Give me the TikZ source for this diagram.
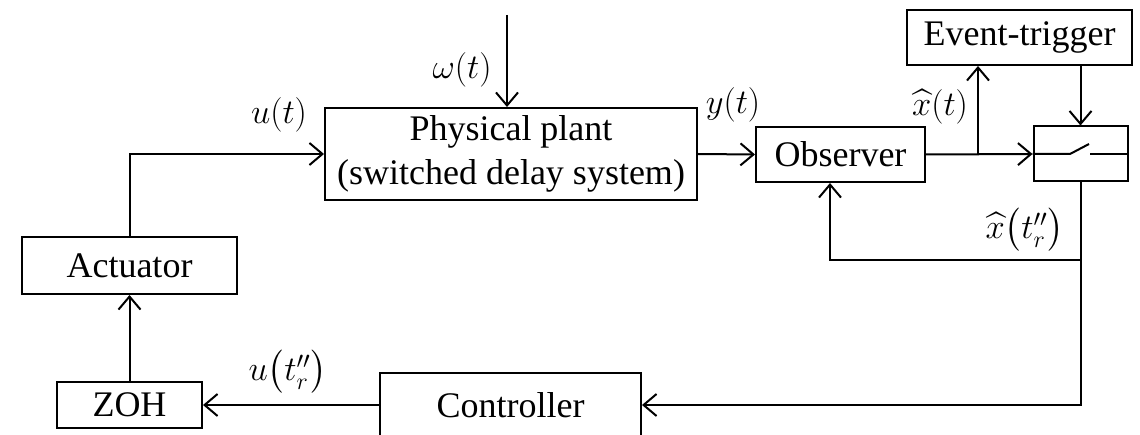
\documentclass[tikz,border=0pt]{standalone}
\usepackage{amsmath}
\usepackage{amssymb}
\usepackage{fontspec}
\setmainfont{Liberation Serif}
\usetikzlibrary{arrows.meta}

\begin{document}
\begin{tikzpicture}[x=0.5pt, y=0.5pt, line width=1pt,
		font=\fontsize{18}{22}\selectfont,
		block/.style={draw, inner sep=0pt, align=center},
		lbl/.style={inner sep=0pt},
		sig/.style={-{Straight Barb[length=6.5pt,width=11pt]}}]
		\useasboundingbox (0,0) rectangle (1140,434);
		% blocks
		\node[block, minimum width=186pt, minimum height=46pt] (plant) at (511,280) {Physical plant\\(switched delay system)};
		\node[block, minimum width=84.5pt, minimum height=27.5pt] (obs) at (840.5,279.5) {Observer};
		\node[block, minimum width=112.5pt, minimum height=27.5pt] (trig) at (1019.5,396.5) {Event-trigger};
		\node[block, minimum width=47pt, minimum height=27.5pt] (sw) at (1080.5,280) {};
		\node[block, minimum width=107.5pt, minimum height=28.5pt] (act) at (129.5,168.5) {Actuator};
		\node[block, minimum width=72.5pt, minimum height=23pt] (zoh) at (129.5,29) {ZOH};
		\node[block, minimum width=130.5pt, minimum height=32pt] (ctrl) at (510.5,29) {Controller};
		% switch contact
		\coordinate (S1) at (1070,280);
		\coordinate (S2) at (1089,290);
		\coordinate (S3) at (1090,280);
		\draw (sw.west) -- (S1) -- (S2);
		\draw (S3) -- (sw.east);
		% signals
		\coordinate (W) at (507,419);
		\coordinate (J) at (978,280);
		\coordinate (F) at (1080.5,174);
		\coordinate (G) at (830,174);
		\draw[sig] (W) -- (W |- plant.north);
		\draw[sig] (act.north) |- (plant.west);
		\draw[sig] (plant.east) -- (obs.west);
		\draw[sig] (obs.east) -- (sw.west);
		\draw[sig] (J) -- (J |- trig.south);
		\draw[sig] (sw.north |- trig.south) -- (sw.north);
		\draw[sig] (sw.south) |- (ctrl.east);
		\draw[sig] (F) -- (G) -- (G |- obs.south);
		\draw[sig] (ctrl.west) -- (zoh.east);
		\draw[sig] (zoh.north) -- (act.south);
		% labels
		\node[lbl] (lu) at (279,319) {$u(t)$};
		\node[lbl] (lw) at (462,364) {$\omega(t)$};
		\node[lbl] (ly) at (733,329) {$y(t)$};
		\node[lbl] (lx) at (940,327) {$\widehat{x}(t)$};
		\node[lbl] (lxr) at (1025,204) {$\widehat{x}\bigl(t_r''\bigr)$};
		\node[lbl] (lur) at (288,62) {$u\bigl(t_r''\bigr)$};
\end{tikzpicture}
\end{document}
